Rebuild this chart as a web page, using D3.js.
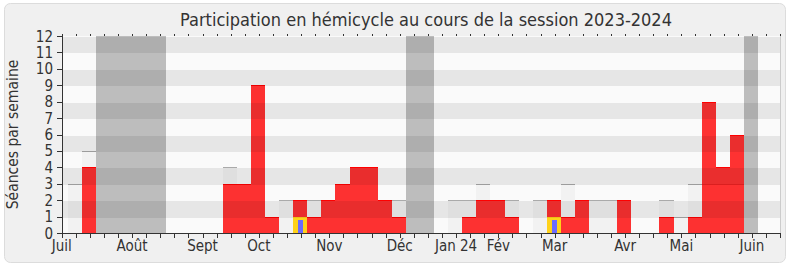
<!DOCTYPE html>
<html>
<head>
<meta charset="utf-8">
<script src="https://cdn.jsdelivr.net/npm/d3@7"></script>
<style>
  body { margin: 0; background: #fff; }
  svg { display: block; }
</style>
</head>
<body>
<svg id="chart" width="790" height="267"></svg>
<script>
// weekly values, week 0 = first week of July 2023
var totalSeances = [3,5,0,0,0,0,0,0,0,0,0,4,3,9,1,2,2,2,2,3,4,4,2,2,0,0,0,2,2,3,2,2,0,2,2,3,2,2,2,2,0,0,2,1,3,3,3,3,0,0,0];
var presences    = [0,4,0,0,0,0,0,0,0,0,0,3,3,9,1,0,2,1,2,3,4,4,2,1,0,0,0,0,1,2,2,1,0,0,2,1,2,0,0,2,0,0,1,0,1,8,4,6,0,0,0];
var interventions = [0,0,0,0,0,0,0,0,0,0,0,0,0,0,0,0,1,0,0,0,0,0,0,0,0,0,0,0,0,0,0,0,0,0,1,0,0,0,0,0,0,0,0,0,0,0,0,0,0,0,0];
var questions     = [0,0,0,0,0,0,0,0,0,0,0,0,0,0,0,0,1,0,0,0,0,0,0,0,0,0,0,0,0,0,0,0,0,0,1,0,0,0,0,0,0,0,0,0,0,0,0,0,0,0,0];
var vacances = [2,3,4,5,6,24,25,48];
var monthLabels = ["Juil","Août","Sept","Oct","Nov","Déc","Jan 24","Fév","Mar","Avr","Mai","Juin"];
var monthTicks  = [0,5,10,14,19,24,28,31,35,40,44,49];
var yTicks = d3.range(0, 13);

var nTicks = 51;
var barOffset = 0.44;

var svg = d3.select("#chart");
var font = "'DejaVu Sans Condensed', 'DejaVu Sans', sans-serif";

var x = d3.scaleLinear().domain([0, nTicks]).range([61.7, 780]);
var y = d3.scaleLinear().domain([0, 12]).range([233, 36]);

// bar edges snapped to pixels so neighbours join without seams
function bx0(w) { return Math.round(x(Math.max(0, w + barOffset))); }
function bx1(w) { return Math.round(x(Math.min(nTicks, w + 1 + barOffset))); }
function by(v) { return Math.round(y(v)); }

// outer frame
svg.append("rect")
  .attr("x", 4.5).attr("y", 3.5)
  .attr("width", 781).attr("height", 259)
  .attr("rx", 6)
  .attr("fill", "#f0f0f0")
  .attr("stroke", "#dcdcdc");

svg.append("text")
  .attr("x", 426).attr("y", 26)
  .attr("text-anchor", "middle")
  .attr("font-family", font)
  .attr("font-size", 18)
  .attr("fill", "#333")
  .text("Participation en hémicycle au cours de la session 2023-2024");

// plot bg
svg.append("rect")
  .attr("x", x(0)).attr("y", y(12))
  .attr("width", x(nTicks) - x(0)).attr("height", y(0) - y(12))
  .attr("fill", "#fafafa");

var weeks = d3.range(totalSeances.length);
var g = svg.append("g").attr("shape-rendering", "crispEdges");

// total seances (light grey)
var tot = weeks.filter(function(w) { return totalSeances[w] > 0; });
g.selectAll("rect.tot")
  .data(tot)
  .enter().append("rect")
  .attr("x", bx0)
  .attr("y", function(w) { return by(totalSeances[w]); })
  .attr("width", function(w) { return bx1(w) - bx0(w); })
  .attr("height", function(w) { return by(0) - by(totalSeances[w]); })
  .attr("fill", "#f2f2f2");
g.selectAll("rect.totTop")
  .data(tot)
  .enter().append("rect")
  .attr("x", bx0)
  .attr("y", function(w) { return by(totalSeances[w]); })
  .attr("width", function(w) { return bx1(w) - bx0(w); })
  .attr("height", 1)
  .attr("fill", "#aaa");

// vacances
g.selectAll("rect.vac")
  .data(vacances)
  .enter().append("rect")
  .attr("x", bx0)
  .attr("y", by(12))
  .attr("width", function(w) { return bx1(w) - bx0(w); })
  .attr("height", by(0) - by(12))
  .attr("fill", "#bdbdbd");

// presences (red)
var pres = weeks.filter(function(w) { return presences[w] > 0; });
g.selectAll("rect.pres")
  .data(pres)
  .enter().append("rect")
  .attr("x", bx0)
  .attr("y", function(w) { return by(presences[w]); })
  .attr("width", function(w) { return bx1(w) - bx0(w); })
  .attr("height", function(w) { return by(0) - by(presences[w]); })
  .attr("fill", "rgba(255,0,0,0.8)");
g.selectAll("rect.presTop")
  .data(pres)
  .enter().append("rect")
  .attr("x", bx0)
  .attr("y", function(w) { return by(presences[w]); })
  .attr("width", function(w) { return bx1(w) - bx0(w); })
  .attr("height", 1)
  .attr("fill", "#ff0000");

// interventions (yellow) + questions (blue)
var interv = weeks.filter(function(w) { return interventions[w] > 0; });
g.selectAll("rect.int")
  .data(interv)
  .enter().append("rect")
  .attr("x", bx0)
  .attr("y", function(w) { return by(interventions[w]); })
  .attr("width", function(w) { return bx1(w) - bx0(w); })
  .attr("height", function(w) { return by(0) - by(interventions[w]); })
  .attr("fill", "#ffd21a");
var quest = weeks.filter(function(w) { return questions[w] > 0; });
g.selectAll("rect.q")
  .data(quest)
  .enter().append("rect")
  .attr("x", function(w) { return Math.round((bx0(w) + bx1(w)) / 2 - 2.5); })
  .attr("y", function(w) { return by(questions[w]) + 3; })
  .attr("width", 5)
  .attr("height", function(w) { return by(0) - by(questions[w]) - 3; })
  .attr("fill", "#6b6bff");

// alternating bands (darken odd rows)
svg.append("g").attr("shape-rendering", "crispEdges")
  .selectAll("rect")
  .data(yTicks.filter(function(v) { return v % 2 === 1; }))
  .enter().append("rect")
  .attr("x", x(0)).attr("y", function(v) { return by(v + 1) + 1; })
  .attr("width", x(nTicks) - x(0))
  .attr("height", function(v) { return by(v) - by(v + 1); })
  .attr("fill", "rgba(0,0,0,0.08)");

// right border
svg.append("line")
  .attr("x1", x(nTicks) + 0.5).attr("x2", x(nTicks) + 0.5)
  .attr("y1", y(12)).attr("y2", y(0))
  .attr("stroke", "#ccc");

// top small ticks
svg.append("g").selectAll("line")
  .data(d3.range(0, nTicks + 1))
  .enter().append("line")
  .attr("x1", function(j) { return Math.round(x(j)) + 0.5; })
  .attr("x2", function(j) { return Math.round(x(j)) + 0.5; })
  .attr("y1", y(12) - 2).attr("y2", y(12))
  .attr("stroke", "#333");

// x axis
var xAxis = svg.append("g")
  .attr("transform", "translate(0," + by(0) + ")");
xAxis.append("line")
  .attr("x1", x(0)).attr("x2", x(nTicks))
  .attr("y1", 0.5).attr("y2", 0.5)
  .attr("stroke", "#333");
xAxis.selectAll("line.t")
  .data(d3.range(0, nTicks + 1))
  .enter().append("line")
  .attr("x1", function(j) { return Math.round(x(j)) + 0.5; })
  .attr("x2", function(j) { return Math.round(x(j)) + 0.5; })
  .attr("y1", 0).attr("y2", 5)
  .attr("stroke", "#333");
xAxis.selectAll("text")
  .data(monthLabels)
  .enter().append("text")
  .attr("x", function(d, i) { return x(monthTicks[i]); })
  .attr("y", 18)
  .attr("text-anchor", "middle")
  .attr("font-family", font)
  .attr("font-size", 15)
  .attr("fill", "#333")
  .text(function(d) { return d; });

// y axis
var yAxis = svg.append("g")
  .attr("transform", "translate(" + Math.round(x(0)) + ",0)");
yAxis.append("line")
  .attr("x1", 0.5).attr("x2", 0.5)
  .attr("y1", y(12)).attr("y2", by(0))
  .attr("stroke", "#333");
yAxis.selectAll("line.t")
  .data(yTicks)
  .enter().append("line")
  .attr("x1", -5).attr("x2", 0)
  .attr("y1", function(v) { return by(v) + 0.5; })
  .attr("y2", function(v) { return by(v) + 0.5; })
  .attr("stroke", "#333");
yAxis.selectAll("text")
  .data(yTicks)
  .enter().append("text")
  .attr("x", -9)
  .attr("y", function(v) { return y(v) + 5.5; })
  .attr("text-anchor", "end")
  .attr("font-family", font)
  .attr("font-size", 15)
  .attr("fill", "#333")
  .text(function(v) { return v; });

svg.append("text")
  .attr("transform", "translate(18," + ((y(0) + y(12)) / 2) + ") rotate(-90)")
  .attr("text-anchor", "middle")
  .attr("font-family", font)
  .attr("font-size", 15.5)
  .attr("fill", "#333")
  .text("Séances par semaine");
</script>
</body>
</html>
